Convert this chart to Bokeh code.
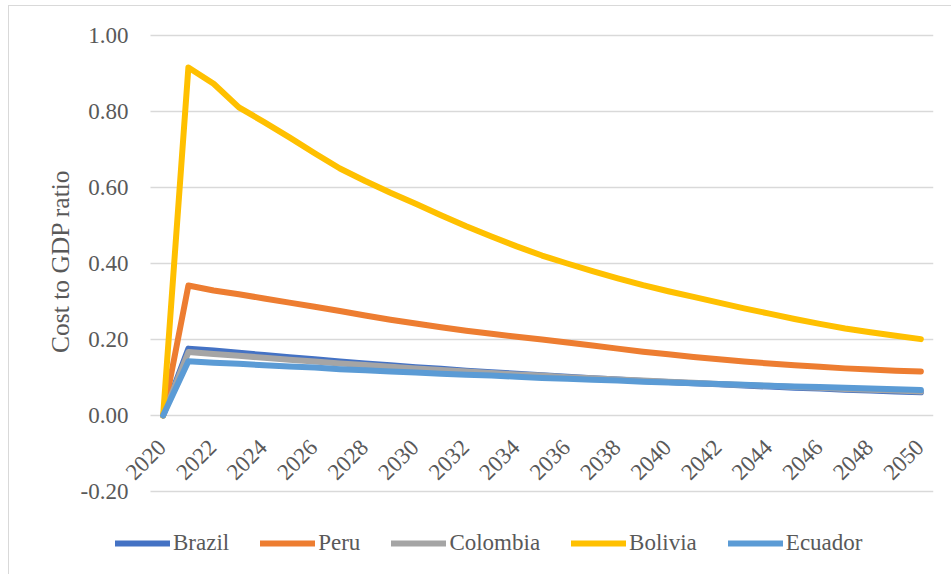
import math
from bokeh.plotting import figure
from bokeh.models import Range1d, Legend, LegendItem, Title
from bokeh.core.properties import value
from bokeh.embed import file_html
from bokeh.resources import INLINE

years = list(range(2020, 2051))

brazil = [0.0, 0.176, 0.171, 0.165, 0.159, 0.153, 0.148, 0.142, 0.137, 0.132, 0.127,
          0.123, 0.118, 0.114, 0.110, 0.106, 0.102, 0.098, 0.095, 0.091, 0.088,
          0.085, 0.082, 0.079, 0.076, 0.073, 0.071, 0.068, 0.066, 0.063, 0.061]
peru = [0.0, 0.342, 0.329, 0.319, 0.308, 0.297, 0.286, 0.275, 0.263, 0.252, 0.242,
        0.232, 0.223, 0.215, 0.207, 0.200, 0.192, 0.184, 0.176, 0.168, 0.161,
        0.154, 0.148, 0.142, 0.137, 0.132, 0.128, 0.124, 0.121, 0.118, 0.116]
colombia = [0.0, 0.167, 0.162, 0.157, 0.152, 0.147, 0.142, 0.137, 0.133, 0.128, 0.124,
            0.120, 0.116, 0.112, 0.108, 0.105, 0.101, 0.098, 0.095, 0.092, 0.089,
            0.086, 0.083, 0.080, 0.078, 0.075, 0.073, 0.070, 0.068, 0.066, 0.063]
bolivia = [0.0, 0.916, 0.873, 0.811, 0.772, 0.732, 0.690, 0.650, 0.617, 0.586, 0.557,
           0.527, 0.498, 0.471, 0.445, 0.421, 0.400, 0.380, 0.361, 0.343, 0.327,
           0.312, 0.297, 0.282, 0.268, 0.254, 0.241, 0.229, 0.219, 0.210, 0.201]
ecuador = [0.0, 0.143, 0.139, 0.136, 0.132, 0.129, 0.126, 0.122, 0.119, 0.116, 0.113,
           0.110, 0.107, 0.105, 0.102, 0.099, 0.097, 0.094, 0.092, 0.089, 0.087,
           0.085, 0.083, 0.081, 0.078, 0.076, 0.075, 0.073, 0.071, 0.069, 0.067]

series_names = ["Brazil", "Peru", "Colombia", "Bolivia", "Ecuador"]
series_values = [brazil, peru, colombia, bolivia, ecuador]
series_colors = ["#4472C4", "#ED7D31", "#A5A5A5", "#FFC000", "#5B9BD5"]

x_tick_years = list(range(2020, 2051, 2))
x_tick_labels = [str(y) for y in x_tick_years]
y_ticks = [-0.2, 0.0, 0.2, 0.4, 0.6, 0.8, 1.0]
y_tick_labels = ["%.2f" % v for v in y_ticks]
y_title = "Cost to GDP ratio"

FONT = "Liberation Serif"
GREY_TXT = "#595959"

# ---- layout (figure-local pixels) ----
W, H = 943, 569
FRAME_L, FRAME_R, FRAME_T, FRAME_B = 69, 924, 4, 564
PLOT_L, PLOT_T, PLOT_B = 141, 29, 485          # category area left, y=1.0, y=-0.2
cat_lo, cat_hi = years[0] - 0.5, years[-1] + 0.5
px_per_year = (FRAME_R - PLOT_L) / (cat_hi - cat_lo)
x_start = cat_lo - (PLOT_L - FRAME_L) / px_per_year
px_per_unit = (PLOT_B - PLOT_T) / (y_ticks[-1] - y_ticks[0])
y_start = y_ticks[0] - (FRAME_B - PLOT_B) / px_per_unit
y_end = y_ticks[-1] + (PLOT_T - FRAME_T) / px_per_unit

p = figure(width=W, height=H, output_backend="svg", toolbar_location=None, title=None,
           x_range=Range1d(x_start, cat_hi), y_range=Range1d(y_start, y_end),
           x_axis_location=None, y_axis_location=None,
           min_border_left=FRAME_L, min_border_right=W - FRAME_R,
           min_border_top=FRAME_T, min_border_bottom=H - FRAME_B)
p.styles = {"margin-left": "8px", "margin-top": "5px",
            "border-left": "1px solid #D9D9D9", "border-top": "1px solid #D9D9D9"}
p.outline_line_color = None
p.background_fill_color = "white"
p.border_fill_color = "white"
p.xgrid.grid_line_color = None
p.ygrid.grid_line_color = None

# horizontal gridlines over the category area
p.segment(x0=[cat_lo] * len(y_ticks), x1=[cat_hi] * len(y_ticks), y0=y_ticks, y1=y_ticks,
          line_color="#D9D9D9", line_width=1.5)

# value-axis tick labels
p.text(x=[cat_lo] * len(y_ticks), y=y_ticks, text=y_tick_labels,
       text_align="right", text_baseline="middle", x_offset=-22,
       text_font=value(FONT), text_font_size="23px", text_color=GREY_TXT)

# value-axis title
p.add_layout(Title(text=y_title, align="right", offset=PLOT_T - FRAME_T + 134,
                   vertical_align="bottom", standoff=8,
                   text_font=FONT, text_font_size="25.5px", text_font_style="normal",
                   text_color=GREY_TXT), "left")

items = []
for name, vals, col in zip(series_names, series_values, series_colors):
    r = p.line(years, vals, line_color=col, line_width=6,
               line_cap="round", line_join="round")
    items.append(LegendItem(label=name, renderers=[r]))

# category labels of the horizontal axis (axis crosses at 0)
p.text(x=x_tick_years, y=[0.0] * len(x_tick_years), text=x_tick_labels,
       angle=math.pi / 4, text_align="right", text_baseline="middle",
       x_offset=-1, y_offset=28,
       text_font=value(FONT), text_font_size="23px", text_color=GREY_TXT)

legend = Legend(items=items, orientation="horizontal", location=(37, 14),
                glyph_width=55, glyph_height=20, label_standoff=3, spacing=31,
                padding=0, margin=0, border_line_color=None,
                background_fill_alpha=0,
                label_text_font=FONT, label_text_font_size="23px",
                label_text_color=GREY_TXT)
p.add_layout(legend)

open("out.html", "w").write(file_html(p, INLINE))
